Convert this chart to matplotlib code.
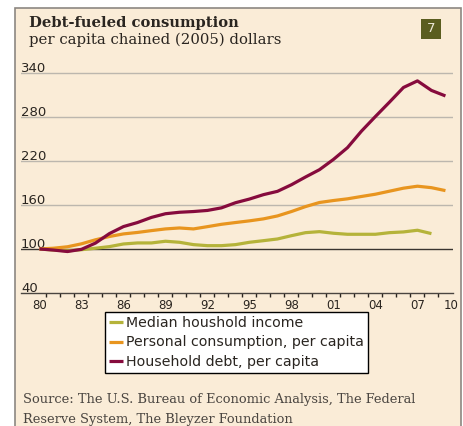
import matplotlib.pyplot as plt
from matplotlib.patches import Rectangle
from matplotlib.transforms import blended_transform_factory

# values (1980 = 100)
years = list(range(1980, 2010))
debt = [100, 98.5, 96.5, 99.5, 108, 121, 130.5, 136, 143, 148, 150, 151, 152.5, 156,
        163, 168, 174, 178.5, 187.5, 198, 208, 222, 238, 260.5, 280.5, 300, 320, 329,
        316, 308.5]
consumption = [100, 101, 103, 107, 112.5, 117, 120.5, 122.5, 125, 127.3, 128.6, 127.3,
               130.4, 133.6, 136, 138.3, 141, 145, 151, 157.7, 163.3, 166, 168.3, 171.5,
               174.6, 178.7, 182.8, 185.5, 183.5, 179.5]
income_years = list(range(1980, 2009))
income = [100, 98.5, 97.5, 99, 101, 103.2, 106.8, 108.2, 108.2, 110.5, 109.1, 105.9,
          104.5, 104.5, 105.9, 109.1, 111.3, 113.6, 118.1, 122.2, 123.6, 121.4, 120,
          120, 120, 122.2, 123.2, 125.5, 120.9]

ytick_vals = [40, 100, 160, 220, 280, 340]
xtick_years = [1980, 1983, 1986, 1989, 1992, 1995, 1998, 2001, 2004, 2007]
xtick_labels = ['80', '83', '86', '89', '92', '95', '98', '01', '04', '07']

bg = '#faecd7'
c_income = '#b5b33a'
c_cons = '#e8951f'
c_debt = '#860b3d'

W, H = 464, 426
fig = plt.figure(figsize=(W / 100, H / 100), dpi=100)
fig.patch.set_facecolor('white')

# beige panel with grey border
fig.patches.append(Rectangle((15 / W, -0.05), 446 / W, 1.05 - 8 / H,
                             transform=fig.transFigure, facecolor=bg,
                             edgecolor='#8c8782', linewidth=1.2, zorder=-5))

ax = fig.add_axes([21 / W, 1 - 293 / H, 432 / W, 229 / H])
ax.set_zorder(1)
ax.set_facecolor('none')
ax.set_xlim(1978.68, 2009.54)
ax.set_ylim(40, 352)

for v in ytick_vals[2:]:
    ax.axhline(v, color='#bcb7ae', lw=1.0, zorder=1)
ax.axhline(100, color='#3a3530', lw=1.0, zorder=1)

ax.plot(income_years, income, color=c_income, lw=2.3, solid_capstyle='butt', zorder=3,
        label='Median houshold income')
ax.plot(years, consumption, color=c_cons, lw=2.3, solid_capstyle='butt', zorder=4,
        label='Personal consumption, per capita')
ax.plot(years, debt, color=c_debt, lw=2.3, solid_capstyle='butt', zorder=5,
        label='Household debt, per capita')

for s in ['top', 'right', 'left']:
    ax.spines[s].set_visible(False)
ax.spines['bottom'].set_color('#4a4540')
ax.spines['bottom'].set_linewidth(1.0)

ax.set_yticks([])
ax.set_xticks(xtick_years + [2009.4])
ax.set_xticklabels(xtick_labels + ['10'], fontsize=8.5, color='#2a2520')
ax.tick_params(axis='x', which='major', length=0, pad=4)
ax.set_xticks([y + 0.5 for y in range(1980, 2009)], minor=True)
ax.tick_params(axis='x', which='minor', length=3, width=1.0, color='#2a2520',
               direction='out')

tr = blended_transform_factory(ax.transAxes, ax.transData)
for v in ytick_vals:
    ax.text(0.0, v + 1.5, str(v), transform=tr, ha='left', va='baseline',
            fontsize=9.5, color='#2a2520')

# titles
fig.text(29 / W, 1 - 27 / H, 'Debt-fueled consumption', fontsize=10.6,
         fontweight='bold', family='DejaVu Serif', color='#2a2520', va='baseline')
fig.text(29 / W, 1 - 44 / H, 'per capita chained (2005) dollars', fontsize=10.7,
         family='DejaVu Serif', color='#2a2520', va='baseline')

# number badge
fig.patches.append(Rectangle((421 / W, 1 - 39 / H), 20 / W, 20 / H,
                             transform=fig.transFigure, facecolor='#5a5d1f',
                             edgecolor='none', zorder=2))
fig.text(431 / W, 1 - 29 / H, '7', fontsize=9.5, color='#ece8d8', ha='center',
         va='center', zorder=3)

leg = ax.legend(loc='upper left', bbox_to_anchor=(105 / W, 1 - 312 / H),
                bbox_transform=fig.transFigure, fontsize=10.2, frameon=True,
                fancybox=False, edgecolor='black', facecolor='white', framealpha=1,
                handlelength=1.0, handletextpad=0.25, labelspacing=0.42,
                borderpad=0.25, borderaxespad=0)
leg.get_frame().set_linewidth(1.0)
for t in leg.get_texts():
    t.set_color('#2a2520')

fig.text(23 / W, 1 - 403 / H,
         'Source: The U.S. Bureau of Economic Analysis, The Federal',
         fontsize=9.4, family='DejaVu Serif', color='#4a4540', va='baseline')
fig.text(23 / W, 1 - 423 / H, 'Reserve System, The Bleyzer Foundation',
         fontsize=9.4, family='DejaVu Serif', color='#4a4540', va='baseline')

fig.savefig('out.png', dpi=100, facecolor=fig.get_facecolor())
